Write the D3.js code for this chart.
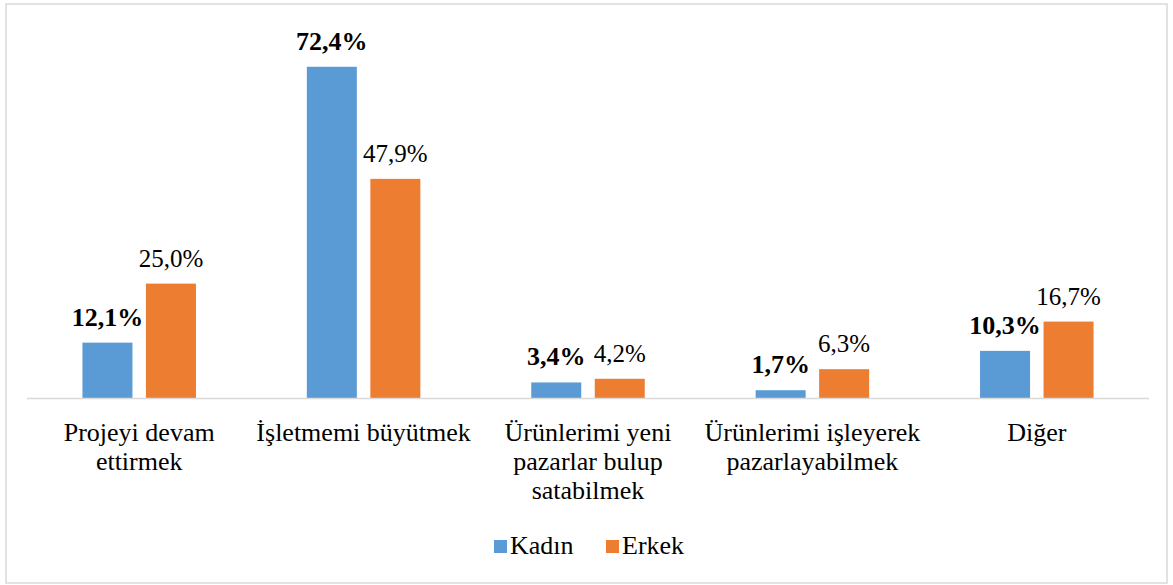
<!DOCTYPE html>
<html>
<head>
<meta charset="utf-8">
<script src="https://cdn.jsdelivr.net/npm/d3@7"></script>
<style>
  body { margin: 0; background: #fff; }
</style>
</head>
<body>
<div id="chart"></div>
<script>
var chart_width  = 1173;
var chart_height = 585;

var categories = [
    ['Projeyi devam', 'ettirmek'],
    ['İşletmemi büyütmek'],
    ['Ürünlerimi yeni', 'pazarlar bulup', 'satabilmek'],
    ['Ürünlerimi işleyerek', 'pazarlayabilmek'],
    ['Diğer']
];
var series  = ['Kadın', 'Erkek'];
var colors  = ['#5B9BD5', '#ED7D31'];
var kadin   = [12.1, 72.4, 3.4, 1.7, 10.3];
var erkek   = [25.0, 47.9, 4.2, 6.3, 16.7];
var values  = [kadin, erkek];

var font = "'Liberation Serif', 'Times New Roman', Tinos, 'DejaVu Serif', serif";
var fmt = function(v) { return v.toFixed(1).replace('.', ',') + '%'; };

var svg = d3.select('#chart')
            .append('svg')
            .attr('width', chart_width)
            .attr('height', chart_height)
            .style('font-family', font);

// frame
svg.append('rect')
    .attr('x', 6).attr('y', 4)
    .attr('width', 1161).attr('height', 579)
    .attr('fill', 'none')
    .attr('stroke', '#d9d9d9')
    .attr('stroke-width', 1.5);

var x0 = d3.scaleBand()
           .domain(d3.range(categories.length))
           .range([27, 1149]);

var x1 = d3.scaleBand()
           .domain(series)
           .range([0, x0.bandwidth()])
           .paddingInner(0.2126)
           .paddingOuter(0.873);

var y = d3.scaleLinear()
          .domain([0, 80])
          .range([398, 32]);

// bars
series.forEach((s, si) => {
    var g = svg.append('g');
    g.selectAll('rect')
        .data(values[si])
        .enter()
        .append('rect')
        .attr('x', (d, i) => x0(i) + x1(s))
        .attr('y', (d) => y(d))
        .attr('width', x1.bandwidth())
        .attr('height', (d) => y(0) - y(d))
        .attr('fill', colors[si]);

    g.selectAll('text')
        .data(values[si])
        .enter()
        .append('text')
        .attr('x', (d, i) => x0(i) + x1(s) + x1.bandwidth() / 2)
        .attr('y', (d) => y(d) - 17)
        .attr('text-anchor', 'middle')
        .style('font-size', si === 0 ? '26px' : '25px')
        .style('font-weight', si === 0 ? 'bold' : 'normal')
        .text((d) => fmt(d));
});

// baseline
svg.append('line')
    .attr('x1', 27).attr('x2', 1149)
    .attr('y1', y(0) + 0.5).attr('y2', y(0) + 0.5)
    .attr('stroke', '#d9d9d9')
    .attr('stroke-width', 1.5);

// category labels
categories.forEach((lines, i) => {
    var t = svg.append('text')
        .attr('text-anchor', 'middle')
        .style('font-size', '26px');
    lines.forEach((ln, li) => {
        t.append('tspan')
            .attr('x', x0(i) + x0.bandwidth() / 2)
            .attr('y', 441 + li * 29)
            .text(ln);
    });
});

// legend
var legend = svg.append('g');
var lx = [494, 606];
series.forEach((s, si) => {
    legend.append('rect')
        .attr('x', lx[si]).attr('y', 540)
        .attr('width', 13).attr('height', 13)
        .attr('fill', colors[si]);
    legend.append('text')
        .attr('x', lx[si] + 16).attr('y', 554)
        .style('font-size', '26px')
        .text(s);
});
</script>
</body>
</html>
